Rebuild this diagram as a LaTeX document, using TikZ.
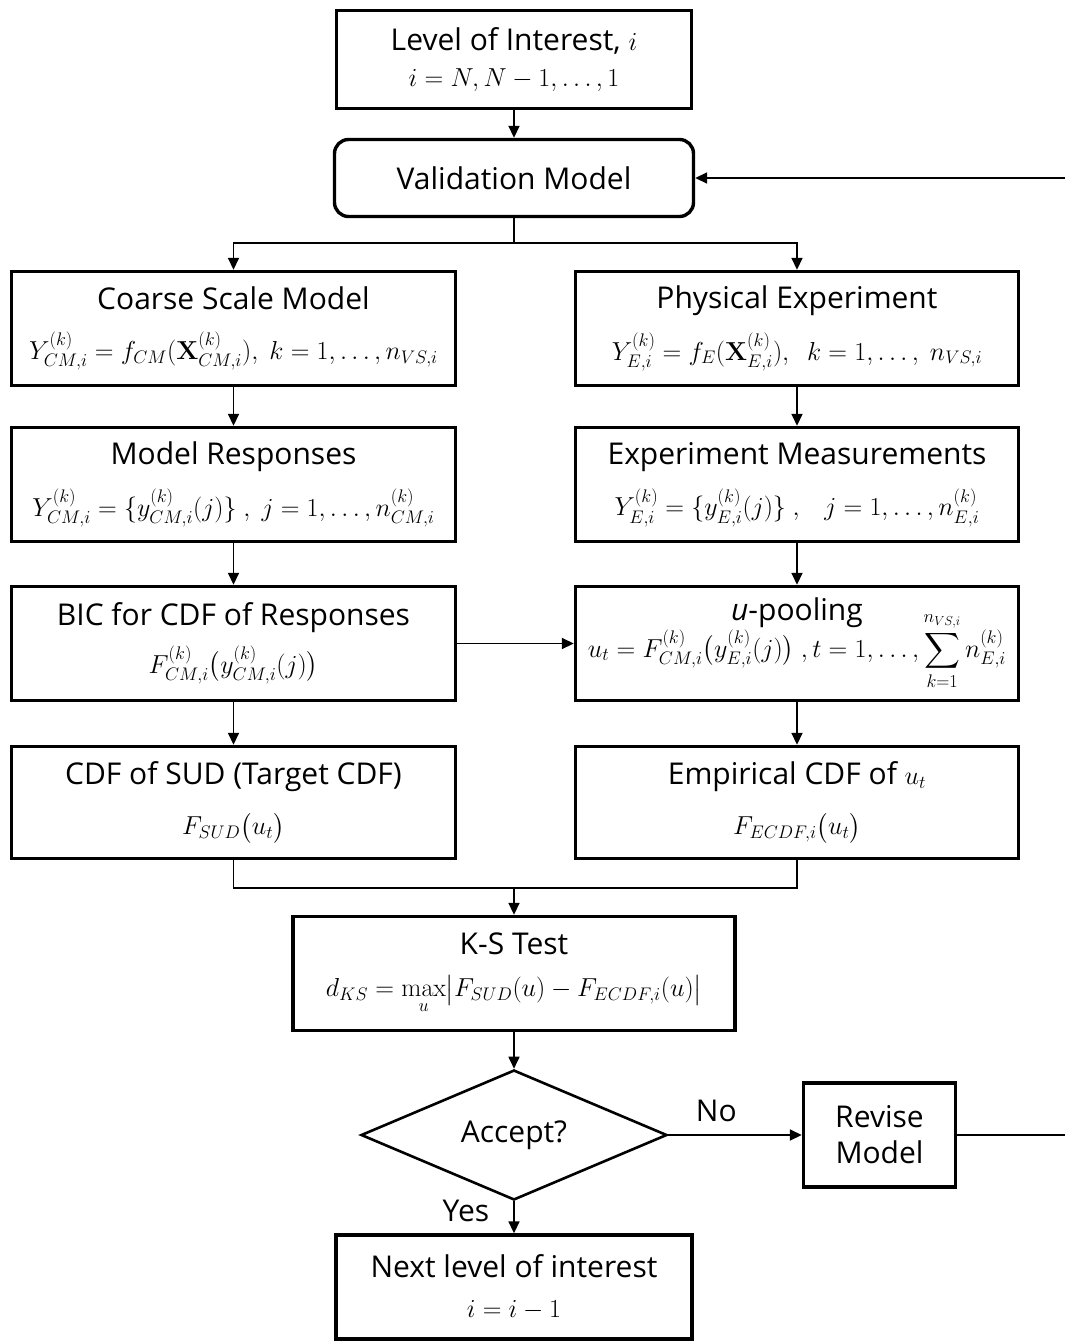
\RequirePackage{fix-cm}
\documentclass[tikz,border=0pt]{standalone}
\usepackage{amsmath}
\usepackage[no-math]{fontspec}
\setmainfont{Open Sans}
\usetikzlibrary{arrows.meta,shapes.geometric}

\newcommand{\ttlfont}{\fontsize{30}{34}\selectfont}
% formulas are set a little smaller than the titles
\newcommand{\fml}[1]{{\fontsize{26}{30}\selectfont$#1$}}

\begin{document}
\begin{tikzpicture}[x=1pt,y=-1pt,
  box/.style={draw, line width=3.4pt, align=center, inner sep=0pt,
    minimum width=#1, font=\ttlfont},
  box/.default=444,
  conn/.style={line width=1.7pt},
  arr/.style={conn, -{Triangle[length=12pt,width=11pt]}},
  lbl/.style={font=\ttlfont, inner sep=0pt}]
\useasboundingbox (0,0) rectangle (1065,1342);

% top of the loop
\node[box=355, minimum height=98] (lvl) at (514,59.5)
  {Level of Interest, \fml{i}\\[2pt] \fml{i=N,N-1,\ldots,1}};
\node[box=359, minimum height=77, rounded corners=14pt] (val) at (514,178)
  {Validation Model};

% left column: model side
\node[box, minimum height=114] (csm) at (233.5,328.5)
  {Coarse Scale Model\\[16pt]
   \fml{Y_{CM,i}^{(k)}=f_{CM}(\mathbf{X}_{CM,i}^{(k)}),\ k=1,\ldots,n_{VS,i}}};
\node[box, minimum height=114] (mr) at (233.5,484.5)
  {Model Responses\\[16pt]
   \fml{Y_{CM,i}^{(k)}=\{y_{CM,i}^{(k)}(j)\}\ ,\ j=1,\ldots,n_{CM,i}^{(k)}}};
\node[box, minimum height=114] (bic) at (233.5,643.5)
  {BIC for CDF of Responses\\[12pt]
   \fml{F_{CM,i}^{(k)}\bigl(y_{CM,i}^{(k)}(j)\bigr)}};
\node[box, minimum height=112] (cdf) at (233.5,802.5)
  {CDF of SUD (Target CDF)\\[16pt]
   \fml{F_{SUD}\bigl(u_t\bigr)}};

% right column: experiment side
\node[box=443, minimum height=114] (pe) at (797,328.5)
  {Physical Experiment\\[16pt]
   \fml{Y_{E,i}^{(k)}=f_{E}(\mathbf{X}_{E,i}^{(k)}),\ \ k=1,\ldots,\ n_{VS,i}}};
\node[box=443, minimum height=114] (em) at (797,484.5)
  {Experiment Measurements\\[16pt]
   \fml{Y_{E,i}^{(k)}=\{y_{E,i}^{(k)}(j)\}\ ,\ \ \ j=1,\ldots,n_{E,i}^{(k)}}};
\node[box=443, minimum height=114] (up) at (797,643.5)
  {\textit{u}-pooling\\[-16pt]
   \fml{u_t=F_{CM,i}^{(k)}\bigl(y_{E,i}^{(k)}(j)\bigr)\ ,t=1,\ldots,\displaystyle\sum_{k=1}^{n_{VS,i}}n_{E,i}^{(k)}}};
\node[box=443, minimum height=112] (ecdf) at (797,802.5)
  {Empirical CDF of \fml{u_t}\\[16pt]
   \fml{F_{ECDF,i}\bigl(u_t\bigr)}};

% test and decision
\node[box=442, minimum height=114] (ks) at (514,973.5)
  {K-S Test\\[8pt]
   \fml{d_{KS}=\displaystyle\max_{u}\bigl|F_{SUD}(u)-F_{ECDF,i}(u)\bigr|}};
\node[draw, diamond, line width=2.6pt, inner sep=0pt, shape aspect=2.36,
  minimum width=306, minimum height=130, font=\ttlfont] (dec) at (514,1135)
  {Accept?};
\node[box=152, minimum height=104] (rev) at (879.5,1135)
  {Revise\\[2pt] Model};
\node[box=356, minimum height=104] (nxt) at (514,1287)
  {Next level of interest\\[6pt] \fml{i=i-1}};

% connectors
\draw[arr] (lvl.south) -- (val.north);
\coordinate (split) at (514,243);
\draw[arr] (val.south) -- (split) -| (csm.north);
\draw[arr] (split) -| (pe.north);
\draw[arr] (csm.south) -- (mr.north);
\draw[arr] (mr.south) -- (bic.north);
\draw[arr] (bic.south) -- (cdf.north);
\draw[arr] (pe.south) -- (em.north);
\draw[arr] (em.south) -- (up.north);
\draw[arr] (up.south) -- (ecdf.north);
\draw[arr] (bic.east) -- (up.west);
\coordinate (join) at (514,888);
\draw[conn] (cdf.south) |- (join) -| (ecdf.south);
\draw[arr] (join) -- (ks.north);
\draw[arr] (ks.south) -- (dec.north);
\draw[arr] (dec.east) -- node[lbl, above=12pt, pos=0.36] {No} (rev.west);
\draw[arr] (dec.south) -- node[lbl, left=24pt, pos=0.3] {Yes} (nxt.north);
\coordinate (loopR) at (1090,1135);
\coordinate (loopT) at (1090,178);
\draw[arr] (rev.east) -- (loopR) -- (loopT) -- (val.east);
\end{tikzpicture}
\end{document}
